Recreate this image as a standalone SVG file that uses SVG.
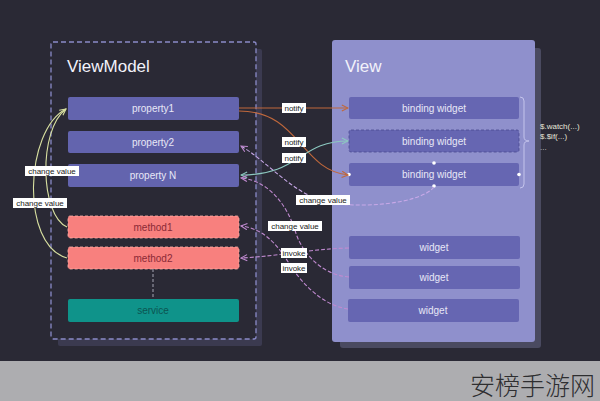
<svg xmlns="http://www.w3.org/2000/svg" width="600" height="401" viewBox="0 0 600 401">
<defs>
<style>
.t{font-family:"Liberation Sans",Arial,sans-serif}
.title{font-size:17px;fill:#f2f2fa}
.box{font-size:10px;fill:#e8e8f6;text-anchor:middle}
.prop{fill:#6364ae}
.bw{fill:#6666b2}
.meth{fill:#f8807e;stroke:#ffb0a8;stroke-width:0.8;stroke-dasharray:3 2}
.mtxt{font-size:10px;fill:#8a2a36;text-anchor:middle}
.lbl rect{fill:#ffffff}
.lbl text{font-family:"Liberation Sans",Arial,sans-serif;font-size:8px;fill:#222;text-anchor:middle}
.c{fill:none;stroke-width:1.1}
</style>
<marker id="aO" viewBox="0 0 10 10" refX="9" refY="5" markerWidth="7" markerHeight="7" orient="auto-start-reverse"><path d="M1,1 L9,5 L1,9" fill="none" stroke="#c0683c" stroke-width="1.4"/></marker>
<marker id="aT" viewBox="0 0 10 10" refX="9" refY="5" markerWidth="7" markerHeight="7" orient="auto-start-reverse"><path d="M1,1 L9,5 L1,9" fill="none" stroke="#8cc8c0" stroke-width="1.4"/></marker>
<marker id="aP" viewBox="0 0 10 10" refX="9" refY="5" markerWidth="7" markerHeight="7" orient="auto-start-reverse"><path d="M1,1 L9,5 L1,9" fill="none" stroke="#c08ad0" stroke-width="1.4"/></marker>
<marker id="aY" viewBox="0 0 10 10" refX="9" refY="5" markerWidth="7" markerHeight="7" orient="auto-start-reverse"><path d="M1,1 L9,5 L1,9" fill="none" stroke="#d8e0a0" stroke-width="1.4"/></marker>
</defs>
<rect x="0" y="0" width="600" height="361" fill="#2a2935"/>
<rect x="0" y="361" width="600" height="40" fill="#adadb0"/>
<text x="595" y="395" text-anchor="end" font-family="'Noto Sans CJK SC',sans-serif" font-weight="300" font-size="25" fill="#2e2e30">安榜手游网</text>

<g id="viewmodel">
<rect x="58" y="49" width="204" height="297" rx="2" fill="#3b3a50"/>
<rect x="51" y="42" width="205" height="297" rx="2" fill="#2a2935" stroke="#8a8ac8" stroke-width="1.3" stroke-dasharray="5 3"/>
<text class="t title" x="67" y="72">ViewModel</text>
</g>
<g id="view">
<rect x="340" y="48" width="201" height="300" rx="3" fill="#4a4a60"/>
<rect x="332" y="40" width="203" height="302" rx="3" fill="#8f90cc"/>
<text class="t title" x="345" y="72">View</text>
</g>

<g id="property1"><rect class="prop" x="68" y="97" width="171" height="23" rx="2"/><text class="t box" x="153" y="112">property1</text></g>
<g id="property2"><rect class="prop" x="68" y="131" width="171" height="22" rx="2"/><text class="t box" x="153" y="146">property2</text></g>
<g id="propertyN"><rect class="prop" x="68" y="164" width="171" height="23" rx="2"/><text class="t box" x="153" y="179">property N</text></g>
<g id="method1"><rect class="meth" x="68" y="216" width="171" height="22" rx="2"/><text class="t mtxt" x="153" y="231">method1</text></g>
<g id="method2"><rect class="meth" x="68" y="247" width="171" height="22" rx="2"/><text class="t mtxt" x="153" y="262">method2</text></g>
<g id="service"><rect x="68" y="299" width="171" height="23" rx="2" fill="#0f938a"/><text class="t box" x="153" y="314" style="fill:#0c5552">service</text></g>

<g id="binding1"><rect class="bw" x="349" y="97" width="170" height="22" rx="2"/><text class="t box" x="434" y="112">binding widget</text></g>
<g id="binding2"><rect class="bw" x="349" y="130" width="170" height="22" rx="2" stroke="#4a4a90" stroke-width="0.8" stroke-dasharray="3 2"/><text class="t box" x="434" y="145">binding widget</text></g>
<g id="binding3"><rect class="bw" x="349" y="163" width="170" height="23" rx="2"/><text class="t box" x="434" y="178">binding widget</text>
<circle cx="434" cy="163" r="1.8" fill="#fff"/><circle cx="434" cy="186" r="1.8" fill="#fff"/><circle cx="349" cy="174.5" r="1.8" fill="#fff"/><circle cx="519" cy="174.5" r="1.8" fill="#fff"/></g>
<g id="widget1"><rect class="bw" x="349" y="236" width="171" height="23" rx="2"/><text class="t box" x="434" y="251">widget</text></g>
<g id="widget2"><rect class="bw" x="349" y="266" width="171" height="23" rx="2"/><text class="t box" x="434" y="281">widget</text></g>
<g id="widget3"><rect class="bw" x="348" y="299" width="171" height="23" rx="2"/><text class="t box" x="433" y="314">widget</text></g>

<g id="watchers">
<path d="M520,97 Q524,97 524,101 L524,137 Q524,141 529,141 Q524,141 524,145 L524,184 Q524,188 520,188" fill="none" stroke="#c4c4ec" stroke-width="1"/>
<text class="t" x="540" y="129" font-size="8" fill="#e4e4d8">$.watch(...)</text>
<text class="t" x="540" y="139" font-size="8" fill="#e4e4d8">$.$if(...)</text>
<text class="t" x="540" y="150" font-size="8" fill="#c8c8c8">...</text>
</g>

<g id="connectors">
<path class="c" d="M239,108 L348,108" stroke="#c0683c" marker-end="url(#aO)"/>
<path class="c" d="M239,111 C300,111 300,170 348,175" stroke="#c0683c" marker-end="url(#aO)"/>
<path class="c" d="M241,175 C300,175 300,141 348,141" stroke="#8cc8c0" marker-start="url(#aT)" marker-end="url(#aT)"/>
<path class="c" d="M434,187 C420,205 350,210 320,200 C290,190 265,160 241,146" stroke="#c8a8e8" stroke-dasharray="4 2" marker-end="url(#aP)"/>
<path class="c" d="M349,277 C320,275 300,250 295,230 C285,200 265,180 241,178" stroke="#c08ad0" stroke-dasharray="4 2" marker-end="url(#aP)"/>
<path class="c" d="M349,248 C310,249 280,256 241,258" stroke="#c08ad0" stroke-dasharray="4 2" marker-end="url(#aP)"/>
<path class="c" d="M348,309 C320,305 300,280 290,265 C275,240 260,228 241,226" stroke="#c08ad0" stroke-dasharray="4 2" marker-end="url(#aP)"/>
<path class="c" d="M153,269 L153,299" stroke="#9a9aa8" stroke-dasharray="3 2"/>
<path class="c" d="M67,227 C40,215 38,130 66,109" stroke="#d8e0a0" marker-end="url(#aY)"/>
<path class="c" d="M67,258 C20,245 25,130 66,109" stroke="#d8e0a0"/>
<g class="lbl">
<rect x="282" y="103" width="24" height="10"/><text x="294" y="111">notify</text>
<rect x="282" y="137" width="24" height="10"/><text x="294" y="145">notify</text>
<rect x="282" y="153" width="24" height="10"/><text x="294" y="161">notify</text>
<rect x="296" y="195" width="54" height="10"/><text x="323" y="203">change value</text>
<rect x="268" y="221" width="54" height="10"/><text x="295" y="229">change value</text>
<rect x="281" y="248" width="26" height="10"/><text x="294" y="256">invoke</text>
<rect x="281" y="263" width="26" height="10"/><text x="294" y="271">invoke</text>
<rect x="25" y="166" width="54" height="10"/><text x="52" y="174">change value</text>
<rect x="13" y="198" width="54" height="10"/><text x="40" y="206">change value</text>
</g>
</g>
</svg>
